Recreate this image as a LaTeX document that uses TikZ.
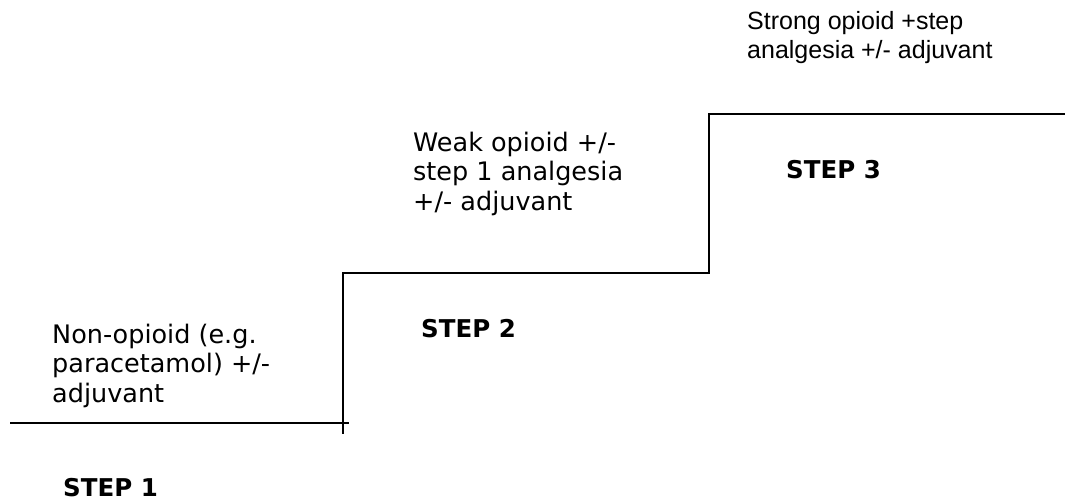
\documentclass[tikz,border=0pt]{standalone}
\usepackage{fontspec}
\setmainfont{DejaVu Sans}
\newfontfamily\arialfont{Liberation Sans}
\begin{document}
\begin{tikzpicture}[x=1pt,y=-1pt,
  stair/.style={line width=1.5pt, line cap=rect},
  vtext/.style={anchor=base west, inner sep=0pt, align=left,
    font=\fontsize{25.5}{29.5}\selectfont},
  atext/.style={anchor=base west, inner sep=0pt, align=left,
    font=\arialfont\fontsize{25}{29}\selectfont},
  steplabel/.style={anchor=base west, inner sep=0pt,
    font=\bfseries\fontsize{24.5}{29}\selectfont}]
\useasboundingbox (0,0) rectangle (1065,500);
% stair outline
\coordinate (s1l) at (11,423);
\coordinate (s1r) at (348,423);
\coordinate (r1b) at (343,433);
\coordinate (r1t) at (343,273);
\coordinate (r2b) at (709,273);
\coordinate (r2t) at (709,114);
\coordinate (s3r) at (1065,114);
\draw[stair] (s1l) -- (s1r);
\draw[stair, line join=miter] (r1b) -- (r1t) -- (r2b) -- (r2t) -- (s3r);
% texts (anchor = baseline of the last line)
\node[vtext] (t1) at (52,402) {Non-opioid (e.g.\\paracetamol) +/-\\adjuvant};
\node[vtext] (t2) at (413,210) {Weak opioid +/-\\step 1 analgesia\\+/- adjuvant};
\node[atext] (t3) at (747,59) {Strong opioid +step\\analgesia +/- adjuvant};
\node[steplabel] (l1) at (63,496) {STEP 1};
\node[steplabel] (l2) at (421,337) {STEP 2};
\node[steplabel] (l3) at (786,178) {STEP 3};
\end{tikzpicture}
\end{document}
